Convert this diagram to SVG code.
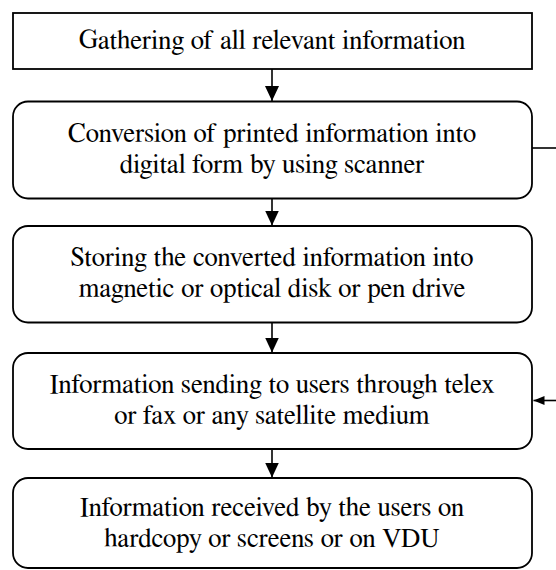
<svg xmlns="http://www.w3.org/2000/svg" width="556" height="570" viewBox="0 0 556 570">
<style>
.box{fill:#fff;stroke:#000;stroke-width:1.8}
.t{font-family:"Nimbus Roman","Nimbus Roman No9 L",FreeSerif,"Noto Serif",Times,"Liberation Serif","DejaVu Serif",serif;font-size:26.8px;fill:#000;text-anchor:middle}
.c{stroke:#000;stroke-width:1.6;fill:none}
</style>
<defs>
<marker id="ah" markerWidth="16" markerHeight="16" refX="15" refY="8" orient="auto" markerUnits="userSpaceOnUse">
<path d="M0,1 L15,8 L0,15 Z" fill="#000"/>
</marker>
<marker id="ahs" markerWidth="12" markerHeight="12" refX="11" refY="6" orient="auto" markerUnits="userSpaceOnUse">
<path d="M0,1.5 L11,6 L0,10.5 Z" fill="#000"/>
</marker>
</defs>
<g id="n1"><rect class="box" x="13" y="13" width="519" height="56"/><text class="t" x="272" y="49">Gathering of all relevant information</text></g>
<g id="n2"><rect class="box" x="13" y="101.5" width="519" height="97" rx="15"/><text class="t" x="272" y="142">Conversion of printed information into</text><text class="t" x="272" y="173">digital form by using scanner</text></g>
<g id="n3"><rect class="box" x="13" y="226" width="519" height="96.5" rx="15"/><text class="t" x="272" y="266">Storing the converted information into</text><text class="t" x="272" y="297">magnetic or optical disk or pen drive</text></g>
<g id="n4"><rect class="box" x="13" y="353" width="519" height="96" rx="15"/><text class="t" x="272" y="393">Information sending to users through telex</text><text class="t" x="272" y="424">or fax or any satellite medium</text></g>
<g id="n5"><rect class="box" x="13" y="478" width="519" height="90" rx="15"/><text class="t" x="272" y="516">Information received by the users on</text><text class="t" x="272" y="547">hardcopy or screens or on VDU</text></g>
<g id="connectors">
<line class="c" x1="272" y1="69" x2="272" y2="101" marker-end="url(#ah)"/>
<line class="c" x1="272" y1="198.5" x2="272" y2="225.5" marker-end="url(#ah)"/>
<line class="c" x1="272" y1="322.5" x2="272" y2="352.5" marker-end="url(#ah)"/>
<line class="c" x1="272" y1="449" x2="272" y2="477.5" marker-end="url(#ah)"/>
<line class="c" x1="532" y1="148" x2="556" y2="148"/>
<line class="c" x1="556" y1="400.5" x2="533.5" y2="400.5" marker-end="url(#ahs)"/>
</g>
</svg>
